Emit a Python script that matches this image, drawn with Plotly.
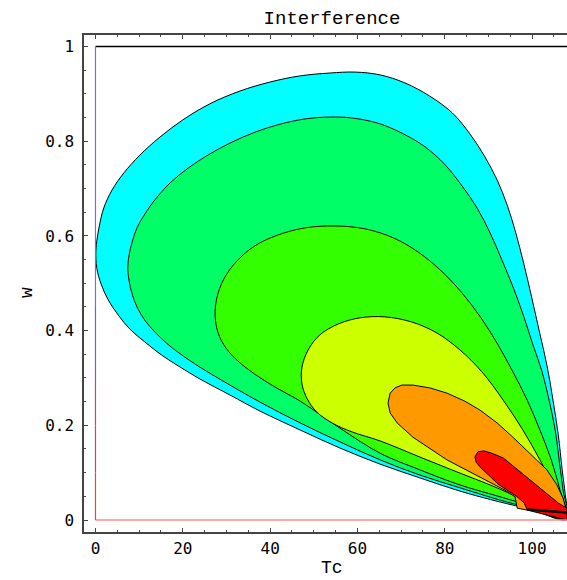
import plotly.graph_objects as go

# Contour bands of the interference level, outermost first (Hue-shaded)
band_colors = ["#00FFFF", "#00FF66", "#33FF00", "#CCFF00", "#FF9900", "#FF0000"]

tc_band1 = [108.0, 107.6, 106.9, 106.0, 104.8, 103.4, 101.6, 99.8, 97.9, 96.1, 94.3, 92.0, 89.2, 85.8, 81.7,
            76.6, 70.9, 65.2, 59.5, 53.7, 46.9, 40.0, 33.1, 26.2, 20.0, 14.8, 10.2, 6.5, 3.8, 1.9,
            0.8, 0.1, 0.3, 1.3, 2.9, 5.2, 7.9, 11.3, 15.2, 19.4, 23.9, 30.8, 37.7, 46.9, 56.0,
            65.2, 74.3, 83.5, 92.7, 99.5, 108.0]
w_band1 = [0.002, 0.053, 0.106, 0.180, 0.253, 0.327, 0.401, 0.475, 0.549, 0.612, 0.665, 0.718, 0.767, 0.815, 0.860,
           0.895, 0.923, 0.940, 0.946, 0.944, 0.938, 0.925, 0.906, 0.879, 0.845, 0.809, 0.771, 0.733, 0.697, 0.659,
           0.617, 0.570, 0.532, 0.498, 0.465, 0.433, 0.403, 0.376, 0.348, 0.323, 0.298, 0.264, 0.230, 0.190, 0.152,
           0.118, 0.089, 0.061, 0.038, 0.023, 0.002]

tc_band2 = [108.0, 107.1, 106.2, 105.3, 103.9, 102.3, 100.2, 98.2, 95.9, 93.1, 90.4, 87.4, 84.0, 80.1, 75.5,
            70.2, 64.7, 58.8, 53.7, 48.0, 42.3, 36.5, 30.8, 25.8, 21.2, 17.1, 13.6, 11.3, 9.5, 8.4,
            7.7, 7.4, 7.7, 8.4, 9.5, 11.3, 13.6, 16.2, 19.4, 23.9, 30.8, 37.7, 46.9, 56.0, 65.2,
            74.3, 83.5, 92.7, 99.5, 108.0]
w_band2 = [0.002, 0.063, 0.127, 0.190, 0.253, 0.313, 0.370, 0.427, 0.486, 0.549, 0.606, 0.659, 0.705, 0.750, 0.788,
           0.817, 0.838, 0.849, 0.851, 0.847, 0.836, 0.819, 0.796, 0.771, 0.743, 0.712, 0.676, 0.646, 0.617, 0.587,
           0.560, 0.532, 0.505, 0.477, 0.450, 0.422, 0.397, 0.374, 0.351, 0.323, 0.285, 0.249, 0.205, 0.165, 0.127,
           0.095, 0.068, 0.042, 0.025, 0.002]

tc_band3 = [108.0, 106.4, 104.4, 101.8, 98.9, 95.6, 92.2, 88.3, 84.0, 79.2, 73.9, 68.2, 61.7, 54.9, 48.0,
            41.8, 36.5, 32.4, 29.4, 27.8, 27.4, 28.1, 29.9, 32.6, 36.5, 41.1, 46.9, 56.0, 65.2, 74.3,
            83.5, 92.7, 99.5, 108.0]
w_band3 = [0.002, 0.063, 0.127, 0.190, 0.253, 0.313, 0.370, 0.427, 0.479, 0.526, 0.566, 0.596, 0.615, 0.621, 0.617,
           0.602, 0.579, 0.547, 0.509, 0.469, 0.431, 0.395, 0.363, 0.336, 0.308, 0.281, 0.251, 0.194, 0.141, 0.106,
           0.074, 0.049, 0.030, 0.002]

tc_band4 = [108.0, 105.3, 101.8, 97.9, 93.4, 88.5, 83.5, 78.2, 72.5, 66.3, 60.6, 55.6, 51.4, 48.7, 47.3,
            47.3, 48.5, 50.7, 54.2, 58.8, 65.2, 74.3, 83.5, 90.4, 95.6, 99.5, 108.0]
w_band4 = [0.002, 0.063, 0.127, 0.190, 0.253, 0.313, 0.359, 0.395, 0.418, 0.429, 0.427, 0.414, 0.391, 0.359, 0.323,
           0.287, 0.256, 0.228, 0.205, 0.186, 0.167, 0.133, 0.099, 0.074, 0.053, 0.036, 0.002]

tc_band5 = [67.0, 67.5, 68.6, 70.2, 72.7, 76.6, 80.5, 84.6, 88.1, 92.0, 95.6, 99.5, 103.4, 105.7, 107.1,
            108.0, 98.9, 96.6, 96.1, 93.8, 88.1, 80.5, 72.7, 69.1, 67.5, 67.0]
w_band5 = [0.247, 0.268, 0.279, 0.285, 0.285, 0.279, 0.268, 0.251, 0.232, 0.205, 0.175, 0.141, 0.106, 0.074, 0.046,
           0.017, 0.021, 0.025, 0.049, 0.063, 0.091, 0.127, 0.175, 0.205, 0.226, 0.247]

tc_band6 = [86.9, 87.6, 89.0, 90.8, 93.4, 97.3, 101.1, 103.4, 104.8, 106.0, 108.0, 108.0, 98.9, 98.2, 96.6,
            92.2, 88.1, 87.2, 86.9]
w_band6 = [0.133, 0.144, 0.146, 0.141, 0.131, 0.101, 0.072, 0.055, 0.044, 0.036, 0.025, 0.0, 0.021, 0.036, 0.049,
           0.076, 0.112, 0.122, 0.133]

# overlapping contour edges where the bands meet in the corner
tc_ridge = [98.9, 108.0]
w_ridge = [0.022, 0.016]

# region boundary
tc_edge = [0, 108.5]
w_top = [1, 1]
w_bottom = [0, 0]
w_left = [0.0, 0.1, 0.2, 0.3, 0.45, 1.0]
left_colors = ["#e8453c", "#cf4560", "#a8508c", "#8a5cad", "#7474c8"]

x_ticks = [0, 20, 40, 60, 80, 100]
x_labels = ["0", "20", "40", "60", "80", "100"]
y_ticks = [0, 0.2, 0.4, 0.6, 0.8, 1.0]
y_labels = ["0", "0.2", "0.4", "0.6", "0.8", "1"]

bands = [
    (tc_band1, w_band1), (tc_band2, w_band2), (tc_band3, w_band3),
    (tc_band4, w_band4), (tc_band5, w_band5), (tc_band6, w_band6),
]
# the outer bands are smooth curves, the two innermost follow a coarse mesh
band_shapes = ["spline", "spline", "spline", "spline", "linear", "linear"]

fig = go.Figure()

for (tc, w), col, shp in zip(bands, band_colors, band_shapes):
    fig.add_trace(go.Scatter(
        x=tc, y=w, mode="lines", fill="toself", fillcolor=col,
        line=dict(color="black", width=1, shape=shp), hoverinfo="skip", showlegend=False,
    ))

fig.add_trace(go.Scatter(x=tc_ridge, y=w_ridge, mode="lines",
                         line=dict(color="black", width=2.5), showlegend=False))

fig.add_trace(go.Scatter(x=tc_edge, y=w_top, mode="lines",
                         line=dict(color="black", width=1.3), showlegend=False))
fig.add_trace(go.Scatter(x=tc_edge, y=w_bottom, mode="lines",
                         line=dict(color="#ff8a8a", width=1.3), showlegend=False))
for i, col in enumerate(left_colors):
    fig.add_trace(go.Scatter(x=[0, 0], y=[w_left[i], w_left[i + 1]], mode="lines",
                             line=dict(color=col, width=1.2), showlegend=False))

tick_font = dict(family="DejaVu Sans Mono", size=16, color="black")
label_font = dict(family="Liberation Mono", size=18, color="black")

fig.update_layout(
    width=567, height=580,
    margin=dict(l=84, r=0, t=35, b=48),
    paper_bgcolor="white", plot_bgcolor="white",
    title=dict(text="Interference", x=332 / 567, xanchor="center", xref="container",
               y=1 - 17.5 / 580, yanchor="middle", yref="container",
               font=dict(family="Liberation Mono", size=19, color="black")),
    xaxis=dict(
        range=[-2.63, 108.0], showgrid=False, zeroline=False,
        showline=True, linecolor="#444", linewidth=1.5, mirror="ticks",
        ticks="inside", ticklen=4, tickcolor="#444", tickwidth=1,
        tickmode="array", tickvals=x_ticks, ticktext=x_labels,
        minor=dict(tickmode="linear", tick0=0, dtick=5, ticks="inside", ticklen=2.5, tickcolor="#444"),
        tickfont=tick_font, ticklabelstandoff=1,
    ),
    yaxis=dict(
        range=[-0.0253, 1.0243], showgrid=False, zeroline=False,
        showline=True, linecolor="#444", linewidth=1.5,
        ticks="inside", ticklen=4, tickcolor="#444", tickwidth=1,
        tickmode="array", tickvals=y_ticks, ticktext=y_labels,
        minor=dict(tickmode="linear", tick0=0, dtick=0.05, ticks="inside", ticklen=2.5, tickcolor="#444"),
        tickfont=tick_font, ticklabelstandoff=5,
    ),
    annotations=[
        dict(text="Tc", xref="paper", yref="paper", x=(332 - 84) / 483, y=(532 - 568) / 497,
             xanchor="center", yanchor="middle", showarrow=False, font=label_font),
        dict(text="w", xref="paper", yref="paper", x=(27 - 84) / 483, y=(532 - 293) / 497,
             xanchor="center", yanchor="middle", textangle=-90, showarrow=False, font=label_font),
    ],
)

fig.write_html("out.html")
